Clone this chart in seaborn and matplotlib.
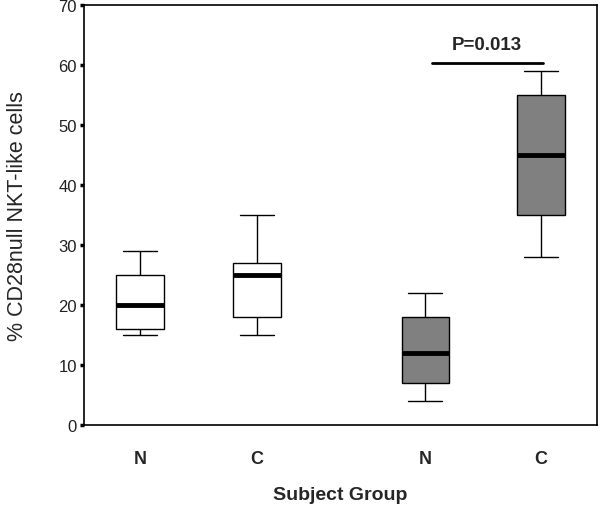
import matplotlib
matplotlib.use("Agg")
import matplotlib.pyplot as plt
import seaborn as sns
import numpy as np
import pandas as pd

# five-number summaries per box: min, q1, median, q3, max
n1_vals = [15, 16, 20, 25, 29]
c1_vals = [15, 18, 25, 27, 35]
n2_vals = [4, 7, 12, 18, 22]
c2_vals = [28, 35, 45, 55, 59]

tick_labels = ['N', 'C', 'N', 'C']
positions = [0, 1, 2.44, 3.43]
groups = ['g1', 'g1', 'g2', 'g2']
p_text = 'P=0.013'

rows = []
for vals, pos, g in zip([n1_vals, c1_vals, n2_vals, c2_vals], positions, groups):
    for v in vals:
        rows.append({'pos': pos, 'val': v, 'group': g})
df = pd.DataFrame(rows)

sns.set_theme(style='white')
plt.rcParams['font.family'] = ['Liberation Sans', 'DejaVu Sans']

fig = plt.figure(figsize=(6, 5.1), dpi=100)
ax = fig.add_axes([0.14, 0.1647, 0.855, 0.8235])

box_w = 0.41
sns.boxplot(data=df, x='pos', y='val', hue='group', native_scale=True, dodge=False,
            palette={'g1': 'white', 'g2': '#808080'}, width=box_w, whis=(0, 100),
            linecolor='black', linewidth=1, legend=False, ax=ax,
            medianprops={'linewidth': 3.5, 'color': 'black'})

# widen the whisker caps a bit
for ln in ax.lines:
    xd = np.asarray(ln.get_xdata(), dtype=float)
    yd = np.asarray(ln.get_ydata(), dtype=float)
    if len(xd) == 2 and yd[0] == yd[1] and ln.get_linewidth() < 2:
        c = xd.mean()
        half = box_w * 0.7 / 2
        ln.set_xdata([c - half, c + half])

ax.set_xlim(-0.48, 3.91)
ax.set_ylim(0, 70)
ax.set_yticks(range(0, 71, 10))
ax.set_xticks(positions)
ax.set_xticklabels(tick_labels, fontsize=13, fontweight='bold')
ax.tick_params(axis='x', length=0, pad=18)
ax.tick_params(axis='y', length=3, width=2.5, color='black', labelsize=12,
               labelcolor='#222222', pad=2, left=True)

for s in ax.spines.values():
    s.set_color('black')
    s.set_linewidth(1.2)

ax.set_xlabel('Subject Group', fontsize=14, fontweight='bold', labelpad=14)
ax.set_ylabel('% CD28null NKT-like cells', fontsize=15.5, labelpad=22)

# significance bar
ax.plot([2.5, 3.45], [60.4, 60.4], color='black', linewidth=2)
ax.text(2.97, 62.0, p_text, ha='center', va='bottom', fontsize=13.5, fontweight='bold')

fig.savefig('out.png', dpi=100)
